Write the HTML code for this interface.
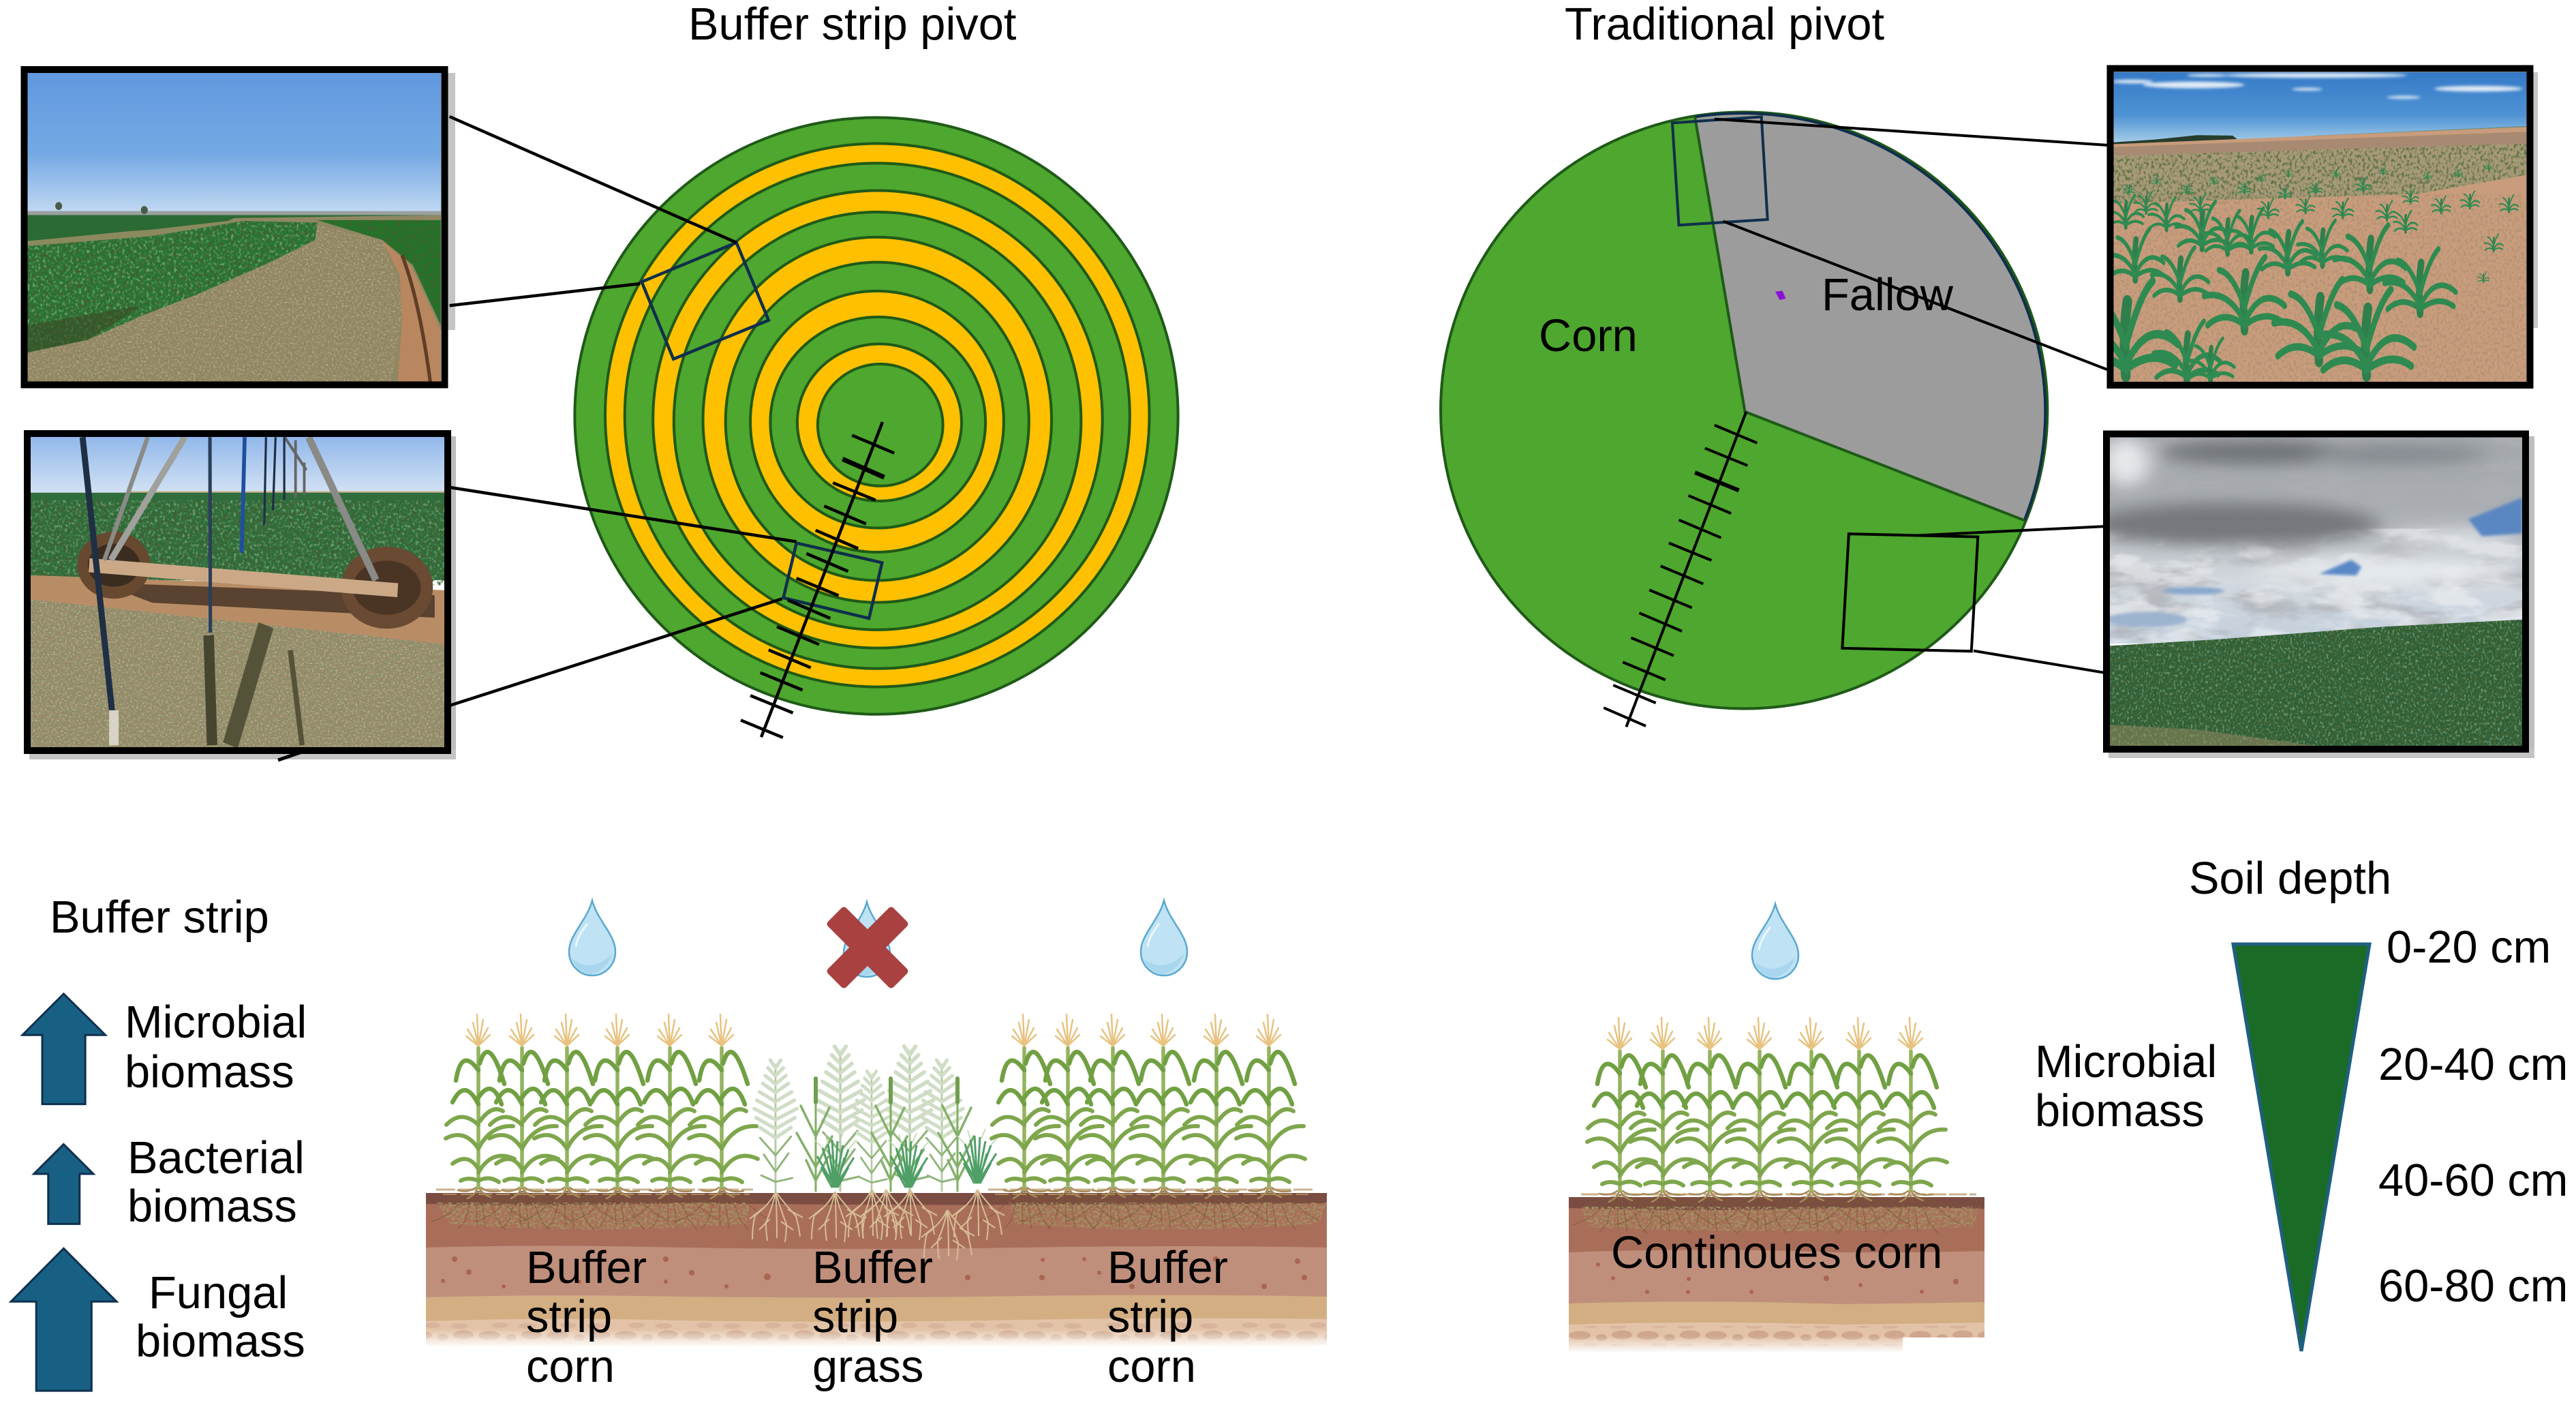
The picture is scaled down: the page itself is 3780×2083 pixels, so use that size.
<!DOCTYPE html>
<html><head><meta charset="utf-8"><title>Buffer strip pivot vs traditional pivot</title>
<style>html,body{margin:0;padding:0;background:#fff}svg{display:block}text{font-family:"Liberation Sans",Arial,sans-serif;font-size:66.8px;fill:#000}.ns *{vector-effect:non-scaling-stroke}</style></head>
<body>
<svg xmlns="http://www.w3.org/2000/svg" width="3780" height="2083" viewBox="0 0 3780 2083">
<defs>
<filter id="nD" x="0" y="0" width="100%" height="100%"><feTurbulence type="fractalNoise" baseFrequency=".13" numOctaves="3" seed="3"/><feColorMatrix values="0 0 0 0 .05 0 0 0 0 .12 0 0 0 0 .03 0 0 0 4 -1.9"/><feComposite in2="SourceAlpha" operator="in"/></filter>
<filter id="nL" x="0" y="0" width="100%" height="100%"><feTurbulence type="fractalNoise" baseFrequency=".16" numOctaves="3" seed="8"/><feColorMatrix values="0 0 0 0 .5 0 0 0 0 .75 0 0 0 0 .45 0 0 0 4 -2"/><feComposite in2="SourceAlpha" operator="in"/></filter>
<filter id="nB" x="0" y="0" width="100%" height="100%"><feTurbulence type="fractalNoise" baseFrequency=".14" numOctaves="3" seed="5"/><feColorMatrix values="0 0 0 0 .32 0 0 0 0 .24 0 0 0 0 .14 0 0 0 4 -1.9"/><feComposite in2="SourceAlpha" operator="in"/></filter>
<filter id="nT" x="0" y="0" width="100%" height="100%"><feTurbulence type="fractalNoise" baseFrequency=".22 .28" numOctaves="3" seed="11"/><feColorMatrix values="0 0 0 0 .78 0 0 0 0 .74 0 0 0 0 .58 0 0 0 4 -2"/><feComposite in2="SourceAlpha" operator="in"/></filter>
<filter id="nR" x="0" y="0" width="100%" height="100%"><feTurbulence type="fractalNoise" baseFrequency=".22 .3" numOctaves="3" seed="14"/><feColorMatrix values="0 0 0 0 .36 0 0 0 0 .27 0 0 0 0 .12 0 0 0 7 -3.2"/><feComposite in2="SourceAlpha" operator="in"/></filter>
<filter id="cW" x="0" y="0" width="100%" height="100%"><feTurbulence type="fractalNoise" baseFrequency=".006 .022" numOctaves="4" seed="21"/><feColorMatrix values="0 0 0 0 .9 0 0 0 0 .91 0 0 0 0 .93 0 0 0 5 -2.3"/><feComposite in2="SourceAlpha" operator="in"/></filter>
<filter id="cG" x="0" y="0" width="100%" height="100%"><feTurbulence type="fractalNoise" baseFrequency=".005 .02" numOctaves="4" seed="6"/><feColorMatrix values="0 0 0 0 .42 0 0 0 0 .43 0 0 0 0 .46 0 0 0 5 -2.3"/><feComposite in2="SourceAlpha" operator="in"/></filter>
<filter id="b4" x="-20%" y="-50%" width="140%" height="200%"><feGaussianBlur stdDeviation="5 3"/></filter>
<filter id="b25" x="-40%" y="-80%" width="180%" height="260%"><feGaussianBlur stdDeviation="30 16"/></filter>
<linearGradient id="s1" x1="0" y1="0" x2="0" y2="1"><stop offset="0" stop-color="#5f97de"/><stop offset=".6" stop-color="#75a9e4"/><stop offset="1" stop-color="#c2d9f2"/></linearGradient>
<linearGradient id="s2" x1="0" y1="0" x2="0" y2="1"><stop offset="0" stop-color="#90b7ea"/><stop offset="1" stop-color="#d2e1f3"/></linearGradient>
<linearGradient id="s3" x1="0" y1="0" x2="0" y2="1"><stop offset="0" stop-color="#3378c6"/><stop offset=".6" stop-color="#4f93d4"/><stop offset="1" stop-color="#b0d4ea"/></linearGradient>
<linearGradient id="s4" x1="0" y1="0" x2="0" y2="1"><stop offset="0" stop-color="#a4a8ac"/><stop offset=".35" stop-color="#a9adb2"/><stop offset=".7" stop-color="#d3d8de"/><stop offset="1" stop-color="#c2cfdc"/></linearGradient>
<linearGradient id="fade" x1="0" y1="0" x2="0" y2="1"><stop offset="0" stop-color="#fff" stop-opacity="0"/><stop offset="1" stop-color="#fff"/></linearGradient>
<pattern id="peb" width="100" height="30" patternUnits="userSpaceOnUse"><ellipse cx="18" cy="9" rx="16" ry="6.500" fill="#cfa78c"/><ellipse cx="50" cy="12" rx="8" ry="5" fill="#cfa78c"/><ellipse cx="80" cy="8" rx="15" ry="6.500" fill="#cfa78c"/><ellipse cx="34" cy="24" rx="12" ry="4" fill="#d8b49c"/><ellipse cx="74" cy="25" rx="13" ry="4" fill="#d8b49c"/></pattern>
<clipPath id="c1"><rect x="40" y="107" width="607" height="453"/></clipPath>
<clipPath id="c2"><rect x="45" y="641" width="607" height="455"/></clipPath>
<clipPath id="c3"><rect x="3101" y="106" width="607" height="454"/></clipPath>
<clipPath id="c4"><rect x="3096" y="641" width="605" height="453"/></clipPath>
<g id="corn" fill="none" stroke-linecap="round">
<path d="M0 0L0-205" stroke="#93b45e" stroke-width="5.500"/>
<g stroke="#7ea64c" stroke-width="6"><path d="M0-10Q-15-16-26-10"/><path d="M0-10Q16-18 30-8"/><path d="M0-27Q-15-52-38-35"/><path d="M0-22Q20-57 53-42"/><path d="M0-57Q-20-87-48-72"/><path d="M0-57Q18-92 51-90"/><path d="M0-92Q-25-115-47-92"/><path d="M2-97Q20-122 36-112"/></g>
<g stroke="#71a043" stroke-width="6.500"><path d="M0-122Q-20-162-38-125"/><path d="M0-132Q20-162 34-122"/><path d="M0-172Q-25-207-33-157"/><path d="M2-182Q15-227 38-152"/></g>
<g stroke="#e8c27f" stroke-width="2.500"><path d="M0-208L-2-254"/><path d="M0-208L-16-232"/><path d="M0-208L14-234"/><path d="M0-208L-8-242"/><path d="M0-208L7-246"/><path d="M0-208L-18-222"/><path d="M0-208L17-224"/></g>
<path d="M-4 0Q-14 8-30 4M4 0Q14 8 32 5M-2 2Q-4 10-16 16M2 2Q6 10 18 14" stroke="#a88a5a" stroke-width="2.500"/>
</g>
<g id="rootC" fill="none" stroke="#7b5a30" stroke-width="1.500" stroke-opacity=".6"><path d="M0 5Q-20 15-40 36Q-55 46-70 50"/><path d="M0 5Q-14 20-18 45Q-22 54-30 60"/><path d="M0 5Q-5 25-2 55"/><path d="M0 5Q8 28 10 60"/><path d="M0 5Q18 16 26 45Q32 54 40 62"/><path d="M0 5Q28 14 50 34Q60 42 72 48"/><path d="M-8 8Q-30 12-60 26"/><path d="M8 8Q30 14 62 24"/></g>
<g id="gr" fill="none" stroke-linecap="round"><path d="M0 0L0-195" stroke="#b4c9a4" stroke-width="3"/><g stroke="#d0ddc6" stroke-width="5.500"><path d="M0-190L-8-202M0-190L8-202M0-178L-12-190M0-178L12-190M0-165L-16-178M0-165L16-178M0-152L-20-166M0-152L20-166M0-138L-25-153M0-138L25-153M0-124L-29-140M0-124L29-140M0-110L-33-127M0-110L33-127M0-96L-30-113M0-96L30-113M0-82L-24-98M0-82L24-98"/></g><g stroke="#8eb478" stroke-width="3"><path d="M0-55L-24-82M0-55L24-84M0-30L-18-56M0-30L20-58M0-14L-22-24M0-14L26-20"/></g></g>
<g id="gn" fill="none" stroke-linecap="round"><path d="M0 0L0-165" stroke="#7fb060" stroke-width="3"/><path d="M0-130L0-165" stroke="#6f9f4d" stroke-width="6"/><g stroke="#84b06a" stroke-width="3.500"><path d="M0-35L-28-85M0-35L24-80M0-80L-22-125M0-80L20-122M0-15L-14-45M0-15L18-50"/></g></g>
<g id="tf" fill="none" stroke="#4f9f66" stroke-width="3"><path d="M0 0L-26-46M0 0L-18-58M0 0L-10-64M0 0L-4-70M0 0L4-68M0 0L12-62M0 0L20-56M0 0L28-44M-4 0L-20-30M4 0L20-30M-2 0L-12-40M2 0L14-44"/><g stroke="#b9d4ae" stroke-width="1.500"><path d="M-18-58L-30-70M-10-64L-14-78M6-66L12-80M20-56L32-70"/></g></g>
<g id="rt" fill="none" stroke="#d6bd96" stroke-width="2"><path d="M0 0Q-8 18-30 35Q-34 50-34 70"/><path d="M0 0Q-4 22-14 45Q-14 60-12 72"/><path d="M0 0Q2 25 2 68"/><path d="M0 0Q6 22 16 48Q16 60 14 74"/><path d="M0 0Q12 16 30 36Q34 50 36 66"/><path d="M-18 24L-38 40M18 26L40 38M-8 40L-24 56M8 44L26 56"/></g>
<g id="drop"><path d="M0 0C8 30 34 50 34 75A34 35 0 0 1-34 75C-34 50-8 30 0 0Z" fill="#bfe2f4" stroke="#5aa8d0" stroke-width="2.500"/><path d="M-7 34Q-22 52-24 68" fill="none" stroke="#eaf7fd" stroke-width="3"/><path d="M-30 85Q-2 108 30 78Q20 104-2 108Q-22 106-30 85Z" fill="#a8d6ee"/></g>
<g id="sp" fill="none" stroke-linecap="round"><path d="M0 0Q-4-40 2-70" stroke="#2f7f4c" stroke-width="13"/><path d="M0-10Q-28-50-70-42M0-10Q30-56 70-30M0-28Q-20-70-44-74M0-28Q18-76 36-90M0-6Q-34-26-64-6M0-6Q36-26 66-10" stroke="#2e8a50" stroke-width="8"/></g>
</defs>

<rect width="3780" height="2083" fill="#fff"/>

<rect x="647" y="107" width="21" height="377" fill="#c4c4c4"/>
<rect x="652" y="640" width="17" height="474" fill="#bdbdbd"/><rect x="43" y="1100" width="626" height="14" fill="#c4c4c4"/>
<rect x="3700" y="106" width="24" height="375" fill="#c6c6c6"/>
<rect x="3695" y="640" width="24" height="472" fill="#bdbdbd"/><rect x="3094" y="1098" width="625" height="14" fill="#c4c4c4"/>
<g fill="none" stroke="#000" stroke-width="5"><path d="M408 1115L446 1102"/></g>

<g transform="translate(800,100) scale(.6378,.6698)" class="ns">
<g stroke="#1f5a18" stroke-width="4">
<ellipse cx="762" cy="761.500" rx="694" ry="653.500" fill="#4ea72e"/>
<ellipse cx="764" cy="760" rx="626" ry="595" fill="#ffc000"/>
<ellipse cx="764" cy="761.500" rx="581" ry="553.500" fill="#4ea72e"/>
<ellipse cx="765" cy="769" rx="517" ry="501" fill="#ffc000"/>
<ellipse cx="764.500" cy="772.500" rx="468.500" ry="457.500" fill="#4ea72e"/>
<ellipse cx="764" cy="770" rx="401" ry="400" fill="#ffc000"/>
<ellipse cx="764" cy="773.500" rx="349" ry="348.500" fill="#4ea72e"/>
<ellipse cx="763.500" cy="774" rx="291.500" ry="286" fill="#ffc000"/>
<ellipse cx="765.500" cy="776" rx="247.500" ry="231" fill="#4ea72e"/>
<ellipse cx="769" cy="776" rx="189" ry="172" fill="#ffc000"/>
<ellipse cx="771" cy="781.500" rx="144" ry="133.500" fill="#4ea72e"/>
</g>
<g fill="none" stroke="#0f2f4c" stroke-width="4.500"><path d="M440 382L514 552L295 637L222 468Z"/><path d="M578 1040L775 1083L745 1205L548 1160Z"/></g>
<g fill="none" stroke="#000" stroke-width="4.500">
<path d="M-220 106L440 382M-220 520L218 472M-220 918L578 1037M-220 1396L545 1162"/>
<path d="M776 775L497 1465"/>
<path d="M706 804L803 843M662 908L760 946M642 959L738 998M622 1012L720 1052M601 1063L697 1102M578 1117L675 1155M558 1165L656 1205M533 1223L630 1262M514 1274L611 1313M495 1324L592 1362M472 1374L570 1412M450 1428L547 1466"/>
<path d="M684 856L780 896" stroke-width="7"/>
</g>
</g>

<g transform="translate(2100,100) scale(.6378)" class="ns">
<ellipse cx="720" cy="787" rx="698" ry="686" fill="#4ea72e" stroke="#1f5a18" stroke-width="4"/>
<path d="M722 790L607 112A698 686 0 0 1 1365 1040Z" fill="#9c9c9c"/>
<path d="M607 112A698 686 0 0 1 1365 1040" fill="none" stroke="#0f2f4c" stroke-width="4"/>
<path d="M607 112L722 790L1365 1040" fill="none" stroke="#1f5a18" stroke-width="4"/>
<path d="M792 514L808 512L816 530L802 533Z" fill="#8a10d8"/>
<path d="M555 126L760 112L774 348L570 361Z" fill="none" stroke="#0f2f4c" stroke-width="4"/>
<path d="M961 1071L1258 1078L1243 1341L946 1334Z" fill="none" stroke="#000" stroke-width="4"/>
<g fill="none" stroke="#000" stroke-width="4">
<path d="M652 117L1555 177M672 352L1555 693M1115 1075L1547 1054M1248 1340L1547 1390"/>
<path d="M725 790L449 1515"/>
<path d="M652 821L750 862M630 874L728 914M592 983L690 1024M570 1039L667 1080M547 1092L645 1132M528 1145L626 1186M502 1200L600 1241M479 1253L577 1295M460 1310L558 1351M441 1366L539 1407M419 1419L517 1460M397 1471L494 1513"/>
<path d="M607 930L708 971" stroke-width="6"/>
</g>
</g>

<text x="1010" y="58">Buffer strip pivot</text>
<text x="2296" y="58">Traditional pivot</text>
<text x="2258" y="515">Corn</text>
<text x="2673" y="455">Fallow</text>

<!-- Photo 1 -->
<g clip-path="url(#c1)"><g transform="scale(.6378,.7337)">
<rect x="40" y="130" width="1000" height="296" fill="url(#s1)"/>
<rect x="40" y="425" width="1000" height="350" fill="#8f8863"/>
<rect x="60" y="422" width="970" height="8" fill="#9aa0a0"/>
<circle cx="135" cy="412" r="8" fill="#4a5b48"/><circle cx="332" cy="420" r="8" fill="#4a5b48"/>
<path d="M63 430L1014 430L540 436L500 450L300 462L63 482Z" fill="#2b6a33"/>
<path d="M63 482L320 462L540 440L550 445L350 475L63 492Z" fill="#8b8a5e"/>
<path d="M63 492L350 472L560 442L730 445L725 480L620 525L450 590L330 630L200 680L63 705Z" fill="#287433"/>
<path d="M63 492L350 472L560 442L730 445L725 480L620 525L450 590L330 630L200 680L63 705Z" filter="url(#nL)" opacity=".45"/>
<path d="M63 492L350 472L560 442L730 445L725 480L620 525L450 590L330 630L200 680L63 705Z" filter="url(#nD)"/>
<path d="M63 650L330 610L200 680L63 705Z" fill="#3a4a24" opacity=".6"/>
<path d="M730 440L1014 440L1014 650L950 530L880 480Z" fill="#237329"/>
<path d="M730 440L1014 440L1014 650L950 530L880 480Z" filter="url(#nD)"/>
<path d="M63 705L200 680L330 630L450 590L620 525L725 480L730 450L880 480L930 600L900 764L63 764Z" fill="#8e8660"/>
<path d="M63 705L200 680L330 630L450 590L620 525L725 480L730 450L880 480L930 600L900 764L63 764Z" filter="url(#nB)"/>
<path d="M63 705L200 680L330 630L450 590L620 525L725 480L730 450L880 480L930 600L900 764L63 764Z" filter="url(#nT)" opacity=".35"/>
<path d="M880 482L945 530L1014 660L1014 764L915 764L925 640L920 550Z" fill="#b8875f"/>
<path d="M925 510Q965 600 990 764" stroke="#5f3d26" stroke-width="8" fill="none"/>
</g></g>

<!-- Photo 2 -->
<g clip-path="url(#c2)"><g transform="scale(.6378,.7337)">
<rect x="60" y="870" width="970" height="115" fill="url(#s2)"/>
<rect x="300" y="982" width="730" height="20" fill="#c9b48c"/>
<rect x="60" y="985" width="970" height="175" fill="#2f6d3d"/>
<rect x="60" y="1000" width="970" height="170" filter="url(#nL)" opacity=".45"/>
<rect x="60" y="1000" width="970" height="170" filter="url(#nD)"/>
<path d="M70 1150L1023 1180L1023 1290L70 1200Z" fill="#b88d66"/>
<path d="M230 1165L1000 1190L1000 1235L350 1205Z" fill="#5a4230"/>
<path d="M70 1198L1023 1288L1023 1494L70 1494Z" fill="#8f8c68"/>
<path d="M70 1198L1023 1288L1023 1494L70 1494Z" filter="url(#nB)"/>
<path d="M70 1198L1023 1288L1023 1494L70 1494Z" filter="url(#nT)" opacity=".4"/>
<ellipse cx="262" cy="1130" rx="72" ry="55" fill="#3b2c20" stroke="#67492f" stroke-width="24"/>
<ellipse cx="890" cy="1175" rx="92" ry="68" fill="#4a3424" stroke="#6a4a32" stroke-width="28"/>
<g fill="none" stroke-linecap="butt">
<path d="M205 1130L915 1180" stroke="#cba987" stroke-width="28"/>
<path d="M340 874L240 1120" stroke="#8a8a86" stroke-width="10"/>
<path d="M425 874L255 1120" stroke="#a0a09c" stroke-width="14"/>
<path d="M710 874L865 1160" stroke="#8a8a86" stroke-width="16"/>
<path d="M655 874L705 940M700 925V990M680 880V995" stroke="#666" stroke-width="6"/>
<path d="M190 874L265 1480" stroke="#1f2f44" stroke-width="14"/>
<path d="M483 874L484 1265" stroke="#2a3f5a" stroke-width="8"/>
<path d="M563 874L556 1105" stroke="#1f4f9f" stroke-width="9"/>
<path d="M612 874L608 1050M634 874L628 1020M654 874V1000" stroke="#1f2f44" stroke-width="5"/>
<path d="M480 1270L488 1490" stroke="#46452f" stroke-width="24"/>
<path d="M612 1250L530 1490" stroke="#55523a" stroke-width="36"/>
<path d="M668 1300L695 1490" stroke="#55523a" stroke-width="12"/>
<path d="M262 1420V1490" stroke="#d8d4c4" stroke-width="22"/>
</g>
</g></g>

<!-- Photo 3 -->
<g clip-path="url(#c3)"><g transform="translate(3000,60) scale(.4975,.7015)">
<rect x="190" y="60" width="1250" height="160" fill="url(#s3)"/>
<g fill="#dfeaf6" filter="url(#b4)"><ellipse cx="440" cy="92" rx="150" ry="7"/><ellipse cx="260" cy="85" rx="60" ry="4"/><ellipse cx="800" cy="72" rx="270" ry="5"/><ellipse cx="775" cy="101" rx="45" ry="3"/><ellipse cx="1280" cy="100" rx="130" ry="6"/><ellipse cx="1060" cy="118" rx="50" ry="3"/><ellipse cx="480" cy="72" rx="60" ry="3"/></g>
<path d="M204 212L330 206L450 197L555 198L580 212L204 218Z" fill="#263c2c"/>
<path d="M580 208L800 198L1423 178L1423 190L580 213Z" fill="#6f8a70"/>
<path d="M204 216L1423 180L1423 713L204 713Z" fill="#c89c7c"/>
<path d="M204 222L1423 190L1423 235L204 250Z" fill="#a88a72"/>
<path d="M204 240L1423 215L1423 280L1100 320L204 340Z" fill="#a89a78"/>
<path d="M204 240L1423 215L1423 280L1100 320L204 340Z" filter="url(#nD)" opacity=".7"/>
<rect x="204" y="320" width="1219" height="393" filter="url(#nB)" opacity=".45"/>
<use href="#sp" transform="translate(240,390) scale(.75)"/><use href="#sp" transform="translate(360,395) scale(.75)"/><use href="#sp" transform="translate(465,435) scale(1.1)"/><use href="#sp" transform="translate(540,445) scale(1)"/><use href="#sp" transform="translate(610,440) scale(1)"/><use href="#sp" transform="translate(718,485) scale(1.2)"/><use href="#sp" transform="translate(820,470) scale(1.05)"/><use href="#sp" transform="translate(960,520) scale(1.5)"/><use href="#sp" transform="translate(1108,570) scale(1.5)"/><use href="#sp" transform="translate(268,500) scale(1.2)"/><use href="#sp" transform="translate(400,540) scale(1.2)"/><use href="#sp" transform="translate(590,605) scale(1.7)"/><use href="#sp" transform="translate(810,670) scale(1.9)"/><use href="#sp" transform="translate(950,700) scale(2)"/><use href="#sp" transform="translate(240,700) scale(2.2)"/><use href="#sp" transform="translate(420,712) scale(1.4)"/><use href="#sp" transform="translate(490,712) scale(1)"/>
<use href="#sp" transform="translate(1065,400) scale(.5)"/><use href="#sp" transform="translate(1170,360) scale(.4)"/><use href="#sp" transform="translate(1255,350) scale(.4)"/><use href="#sp" transform="translate(1370,358) scale(.4)"/><use href="#sp" transform="translate(1325,440) scale(.4)"/><use href="#sp" transform="translate(1295,505) scale(.25)"/><use href="#sp" transform="translate(1080,340) scale(.35)"/><use href="#sp" transform="translate(940,315) scale(.35)"/><use href="#sp" transform="translate(800,320) scale(.3)"/><use href="#sp" transform="translate(710,330) scale(.3)"/><use href="#sp" transform="translate(590,320) scale(.3)"/>
<use href="#sp" transform="translate(250,320) scale(.25)"/><use href="#sp" transform="translate(330,300) scale(.2)"/><use href="#sp" transform="translate(420,320) scale(.25)"/><use href="#sp" transform="translate(500,300) scale(.2)"/><use href="#sp" transform="translate(640,295) scale(.2)"/><use href="#sp" transform="translate(720,285) scale(.18)"/><use href="#sp" transform="translate(860,285) scale(.2)"/><use href="#sp" transform="translate(1000,280) scale(.2)"/><use href="#sp" transform="translate(1130,290) scale(.2)"/><use href="#sp" transform="translate(1220,285) scale(.2)"/><use href="#sp" transform="translate(1310,270) scale(.18)"/>
<use href="#sp" transform="translate(660,370) scale(.45)"/><use href="#sp" transform="translate(770,360) scale(.4)"/><use href="#sp" transform="translate(880,370) scale(.45)"/><use href="#sp" transform="translate(1010,375) scale(.45)"/><use href="#sp" transform="translate(300,360) scale(.5)"/><use href="#sp" transform="translate(460,360) scale(.45)"/>
</g></g>

<!-- Photo 4 -->
<g clip-path="url(#c4)"><g transform="translate(3000,60) scale(.4975,.7015)">
<rect x="180" y="820" width="1240" height="440" fill="url(#s4)"/>
<rect x="180" y="820" width="1240" height="440" filter="url(#cG)" opacity=".7"/>
<rect x="180" y="1020" width="1240" height="240" filter="url(#cW)" opacity=".55"/>
<g filter="url(#b25)"><ellipse cx="560" cy="1010" rx="430" ry="45" fill="#74787d"/><ellipse cx="620" cy="860" rx="280" ry="25" fill="#6f7378"/><ellipse cx="1050" cy="865" rx="260" ry="22" fill="#858a90"/><ellipse cx="1000" cy="1110" rx="380" ry="28" fill="#e6eaee"/><ellipse cx="240" cy="880" rx="70" ry="50" fill="#e6e8eb"/><ellipse cx="1200" cy="1040" rx="180" ry="16" fill="#e0e4e8"/></g>
<g filter="url(#b4)"><path d="M1250 1000L1410 955L1410 1030L1290 1036Z" fill="#5a86c2"/><path d="M810 1115L905 1085L935 1100L920 1118Z" fill="#5a88c6"/><ellipse cx="440" cy="1150" rx="90" ry="8" fill="#8aa8cc"/><ellipse cx="300" cy="1210" rx="120" ry="16" fill="#9db4cf"/></g>
<path d="M192 1265L500 1252L1000 1225L1410 1210L1410 1474L192 1474Z" fill="#2f5f38"/>
<path d="M192 1265L500 1252L1000 1225L1410 1210L1410 1474L192 1474Z" filter="url(#nL)" opacity=".45"/>
<path d="M192 1265L500 1252L1000 1225L1410 1210L1410 1474L192 1474Z" filter="url(#nD)"/>
<path d="M192 1430L450 1440L800 1474L192 1474Z" fill="#9a8a64" opacity=".5"/>
</g></g>

<g fill="none" stroke="#000">
<rect x="35.500" y="102" width="617" height="462.500" stroke-width="10"/>
<rect x="40" y="636" width="617" height="465" stroke-width="10"/>
<rect x="3096.500" y="100.500" width="616" height="464.500" stroke-width="10"/>
<rect x="3091" y="636.500" width="615" height="462.500" stroke-width="10"/>
</g>

<!-- Arrows -->
<g transform="translate(0,1300) scale(.3827,.4994)" fill="#186083" stroke="#0f3050" class="ns" stroke-width="3">
<path d="M244 316L404 437H327V640H162V437H86Z"/>
<path d="M244 758L358 845H305V992H185V845H130Z"/>
<path d="M244 1064L447 1220H351V1482H139V1220H42Z"/>
</g>
<text x="73" y="1368">Buffer strip</text>
<text x="183" y="1522">Microbial</text><text x="183" y="1595">biomass</text>
<text x="187" y="1721">Bacterial</text><text x="187" y="1792">biomass</text>
<text x="218" y="1919">Fungal</text><text x="199" y="1990">biomass</text>

<use href="#drop" x="869" y="1321"/><use href="#drop" x="1272" y="1323"/><use href="#drop" x="1708" y="1321"/><use href="#drop" x="2605" y="1326"/>
<g transform="translate(1273,1390)" fill="#a94141"><rect x="-68" y="-19" width="136" height="38" rx="5" transform="rotate(45)"/><rect x="-68" y="-19" width="136" height="38" rx="5" transform="rotate(-45)"/></g>

<!-- Buffer soil -->
<rect x="625" y="1750" width="1322" height="225" fill="#7b4d42"/>
<path d="M625 1766Q800 1770 1000 1765Q1400 1770 1947 1765V1975H625Z" fill="#a96e5a"/>
<path d="M625 1830Q800 1825 1000 1830Q1250 1834 1500 1830Q1750 1826 1947 1830V1975H625Z" fill="#bf8f7c"/>
<path d="M625 1903Q800 1898 1000 1902Q1250 1905 1500 1901Q1750 1898 1947 1902V1975H625Z" fill="#d2ae82"/>
<path d="M625 1938Q800 1932 1000 1937Q1250 1941 1500 1936Q1750 1932 1947 1935V1975H625Z" fill="#e3c3a8"/>
<rect x="625" y="1938" width="1322" height="34" fill="url(#peb)"/>
<rect x="625" y="1950" width="1322" height="26" fill="url(#fade)"/>
<g fill="#a96550"><circle cx="667" cy="1847" r="4"/><circle cx="688" cy="1866" r="4"/><circle cx="650" cy="1879" r="3"/><circle cx="739" cy="1887" r="3"/><circle cx="850" cy="1880" r="3"/><circle cx="977" cy="1847" r="4"/><circle cx="1015" cy="1867" r="4"/><circle cx="977" cy="1880" r="3"/><circle cx="1066" cy="1887" r="3"/><circle cx="1126" cy="1873" r="5"/><circle cx="1420" cy="1874" r="4"/><circle cx="1530" cy="1848" r="3"/><circle cx="1529" cy="1874" r="4"/><circle cx="1591" cy="1847" r="3"/><circle cx="1613" cy="1867" r="3"/><circle cx="1661" cy="1887" r="4"/><circle cx="1784" cy="1847" r="4"/><circle cx="1855" cy="1887" r="4"/><circle cx="1904" cy="1850" r="4"/><circle cx="1914" cy="1874" r="4"/></g>

<path d="M640 1764H1100L1095 1795Q860 1812 660 1795ZM1480 1764H1947L1935 1795Q1700 1812 1490 1795Z" filter="url(#nR)"/>
<use href="#rootC" x="702" y="1742"/><use href="#rootC" x="766" y="1742"/><use href="#rootC" x="832" y="1742"/><use href="#rootC" x="906" y="1742"/><use href="#rootC" x="983" y="1742"/><use href="#rootC" x="1059" y="1742"/><use href="#rootC" x="1503" y="1742"/><use href="#rootC" x="1567" y="1742"/><use href="#rootC" x="1633" y="1742"/><use href="#rootC" x="1707" y="1742"/><use href="#rootC" x="1785" y="1742"/><use href="#rootC" x="1862" y="1742"/>
<path d="M640 1745H1105M1450 1745H1930" stroke="#c9b28e" stroke-width="3" stroke-dasharray="28 4" fill="none"/>
<path d="M650 1752H1100M1460 1752H1920" stroke="#a88a5a" stroke-width="2" stroke-dasharray="20 6" fill="none"/>

<use href="#rt" x="1138" y="1748"/><use href="#rt" x="1225" y="1748"/><use href="#rt" x="1279" y="1745"/><use href="#rt" x="1335" y="1745"/><use href="#rt" x="1300" y="1745"/><use href="#rt" x="1434" y="1745"/><use href="#rt" x="1390" y="1775"/>
<g transform="translate(1138,1747) scale(.95)"><use href="#gr"/></g>
<g transform="translate(1233,1747) scale(1.05)"><use href="#gr"/></g>
<g transform="translate(1279,1747) scale(.87)"><use href="#gr"/></g>
<g transform="translate(1335,1747) scale(1.05)"><use href="#gr"/></g>
<g transform="translate(1382,1747) scale(.95)"><use href="#gr"/></g>
<use href="#gn" x="1197" y="1747"/><use href="#gn" x="1307" y="1747"/><use href="#gn" x="1405" y="1747"/>
<use href="#tf" x="1225" y="1742"/><use href="#tf" x="1333" y="1742"/><use href="#tf" x="1434" y="1736"/>

<use href="#corn" x="702" y="1742"/><use href="#corn" x="766" y="1742"/><use href="#corn" x="832" y="1742"/><use href="#corn" x="906" y="1742"/><use href="#corn" x="983" y="1742"/><use href="#corn" x="1059" y="1742"/>
<use href="#corn" x="1503" y="1742"/><use href="#corn" x="1567" y="1742"/><use href="#corn" x="1633" y="1742"/><use href="#corn" x="1707" y="1742"/><use href="#corn" x="1785" y="1742"/><use href="#corn" x="1862" y="1742"/>

<text x="772" y="1882">Buffer</text><text x="772" y="1954">strip</text><text x="772" y="2027">corn</text>
<text x="1192" y="1882">Buffer</text><text x="1192" y="1954">strip</text><text x="1192" y="2027">grass</text>
<text x="1625" y="1882">Buffer</text><text x="1625" y="1954">strip</text><text x="1625" y="2027">corn</text>

<!-- Continuous soil -->
<rect x="2302" y="1756" width="610" height="228" fill="#7b4d42"/>
<path d="M2302 1772Q2500 1778 2700 1772Q2800 1770 2912 1773V1984H2302Z" fill="#a96e5a"/>
<path d="M2302 1837Q2500 1830 2700 1837Q2800 1838 2912 1835V1984H2302Z" fill="#bf8f7c"/>
<path d="M2302 1912Q2500 1906 2700 1913Q2800 1912 2912 1910V1984H2302Z" fill="#d2ae82"/>
<path d="M2302 1943Q2500 1937 2700 1943Q2800 1942 2912 1940V1984H2302Z" fill="#e3c3a8"/>
<rect x="2302" y="1945" width="610" height="30" fill="url(#peb)"/>
<rect x="2302" y="1960" width="490" height="25" fill="url(#fade)"/>
<rect x="2792" y="1962" width="125" height="30" fill="#fff"/>
<g fill="#a96550"><circle cx="2345" cy="1855" r="3"/><circle cx="2367" cy="1875" r="3"/><circle cx="2417" cy="1895" r="3"/><circle cx="2478" cy="1876" r="3"/><circle cx="2477" cy="1895" r="3"/><circle cx="2570" cy="1895" r="3"/><circle cx="2680" cy="1875" r="4"/><circle cx="2730" cy="1885" r="3"/><circle cx="2870" cy="1880" r="4"/><circle cx="2820" cy="1895" r="3"/></g>
<path d="M2320 1770H2905L2895 1800Q2600 1812 2330 1800Z" filter="url(#nR)"/>
<use href="#rootC" x="2377" y="1747"/><use href="#rootC" x="2440" y="1747"/><use href="#rootC" x="2509" y="1747"/><use href="#rootC" x="2582" y="1747"/><use href="#rootC" x="2658" y="1747"/><use href="#rootC" x="2728" y="1747"/><use href="#rootC" x="2804" y="1747"/>
<path d="M2320 1752H2900" stroke="#c9b28e" stroke-width="3" stroke-dasharray="26 4" fill="none"/>
<use href="#corn" x="2377" y="1747"/><use href="#corn" x="2440" y="1747"/><use href="#corn" x="2509" y="1747"/><use href="#corn" x="2582" y="1747"/><use href="#corn" x="2658" y="1747"/><use href="#corn" x="2728" y="1747"/><use href="#corn" x="2804" y="1747"/>
<text x="2364" y="1860">Continoues corn</text>

<!-- Soil depth -->
<path d="M3277 1385H3477L3377 1982Z" fill="#1a6b25" stroke="#1f5f7f" stroke-width="5"/>
<text x="3212" y="1311">Soil depth</text>
<text x="3502" y="1412">0-20 cm</text>
<text x="3490" y="1584">20-40 cm</text>
<text x="3490" y="1754">40-60 cm</text>
<text x="3490" y="1909">60-80 cm</text>
<text x="2986" y="1580">Microbial</text>
<text x="2986" y="1652">biomass</text>
</svg>
</body></html>
